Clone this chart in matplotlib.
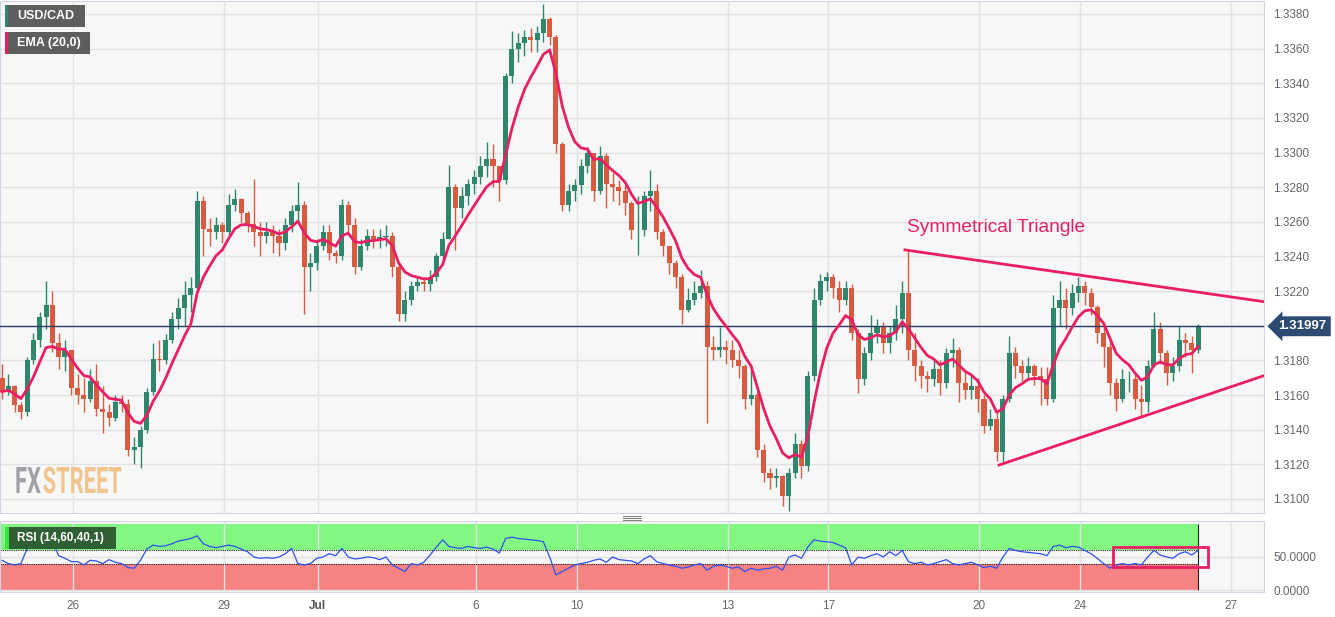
import numpy as np
import pandas as pd
import matplotlib.pyplot as plt
from matplotlib.patches import Rectangle, PathPatch
from matplotlib.lines import Line2D
from matplotlib.textpath import TextPath
from matplotlib.font_manager import FontProperties
from matplotlib.transforms import blended_transform_factory, Affine2D, IdentityTransform

# USD/CAD, 3-hour bars, last four digits (3162 -> 1.3162)
first_open = 3170
close_pips = [3162, 3165, 3154, 3150, 3180, 3192, 3205, 3212, 3190, 3182, 3186, 3164, 3160, 3158, 3168, 3152, 3150, 3147, 3156, 3155,
              3128, 3130, 3140, 3162, 3181, 3180, 3192, 3204, 3210, 3218, 3222, 3272, 3256, 3254, 3258,
              3254, 3270, 3273, 3265, 3259, 3254, 3252, 3254, 3252, 3248, 3258, 3266, 3270, 3234, 3236, 3246, 3254, 3242, 3240, 3270,
              3258, 3234, 3246, 3252, 3250, 3251, 3252, 3234, 3207, 3215, 3223, 3225, 3224,
              3228, 3240, 3250, 3280, 3268, 3275, 3282, 3286, 3292, 3296, 3292, 3284, 3344, 3360, 3363, 3367, 3365, 3369, 3377, 3367,
              3305, 3270, 3278, 3281, 3292, 3300, 3278, 3298, 3282, 3280, 3278, 3271, 3255,
              3255, 3275, 3278, 3254, 3246, 3236, 3228, 3209, 3215, 3219, 3223, 3188, 3186, 3188, 3186, 3180, 3177, 3158, 3160, 3128,
              3115, 3112, 3113, 3102, 3115, 3132, 3119, 3171, 3215, 3226, 3228, 3222, 3215, 3222,
              3196, 3169, 3184, 3196, 3200, 3190, 3196, 3204, 3219, 3186, 3177, 3171, 3169, 3175, 3167, 3184, 3186, 3167, 3163, 3165,
              3158, 3142, 3146, 3127, 3158, 3184, 3177, 3173, 3177, 3171, 3169, 3158, 3210,
              3215, 3210, 3219, 3223, 3219, 3211, 3196, 3188, 3167, 3158, 3169, 3169, 3158, 3156, 3177, 3198, 3184, 3173, 3177, 3192,
              3190, 3186, 3200]
high_pips = [3178, 3172, 3166, 3156, 3182, 3196, 3208, 3226, 3220, 3196, 3192, 3186, 3172, 3170, 3175, 3178, 3165, 3155, 3160, 3160,
             3158, 3136, 3142, 3164, 3190, 3192, 3195, 3208, 3216, 3226, 3228, 3278, 3275, 3262, 3263,
             3260, 3276, 3279, 3274, 3266, 3285, 3260, 3260, 3258, 3256, 3262, 3270, 3283, 3272, 3242, 3250, 3258, 3258, 3244, 3273,
             3272, 3262, 3250, 3256, 3256, 3256, 3258, 3254, 3236, 3220, 3226, 3228, 3228,
             3232, 3242, 3254, 3293, 3282, 3280, 3285, 3290, 3298, 3306, 3305, 3292, 3346, 3370, 3369, 3371, 3372, 3373, 3386, 3378,
             3368, 3306, 3282, 3285, 3296, 3303, 3300, 3304, 3300, 3288, 3284, 3281, 3272,
             3275, 3278, 3290, 3282, 3256, 3246, 3238, 3230, 3222, 3226, 3232, 3226, 3194, 3199, 3192, 3192, 3186, 3178, 3176, 3162,
             3132, 3118, 3118, 3114, 3118, 3138, 3134, 3174, 3222, 3230, 3231, 3230, 3226, 3226,
             3224, 3198, 3188, 3206, 3204, 3202, 3200, 3212, 3226, 3244, 3196, 3180, 3174, 3180, 3180, 3187, 3193, 3188, 3174, 3172,
             3170, 3160, 3152, 3150, 3160, 3194, 3188, 3180, 3182, 3178, 3176, 3176, 3218,
             3226, 3222, 3224, 3228, 3226, 3222, 3212, 3200, 3192, 3170, 3175, 3174, 3172, 3166, 3180, 3208, 3202, 3186, 3182, 3200,
             3196, 3194, 3201]
low_pips = [3158, 3160, 3150, 3146, 3148, 3178, 3188, 3198, 3185, 3175, 3174, 3160, 3155, 3150, 3156, 3148, 3138, 3142, 3145, 3150,
            3125, 3120, 3118, 3138, 3160, 3174, 3178, 3190, 3198, 3200, 3208, 3220, 3240, 3246, 3250,
            3248, 3252, 3266, 3260, 3254, 3246, 3240, 3248, 3242, 3240, 3244, 3254, 3260, 3207, 3220, 3232, 3244, 3238, 3236, 3238,
            3254, 3230, 3232, 3244, 3245, 3245, 3246, 3228, 3203, 3203, 3212, 3220, 3220,
            3220, 3226, 3238, 3250, 3244, 3262, 3270, 3276, 3282, 3286, 3280, 3272, 3282, 3340, 3352, 3356, 3358, 3358, 3364, 3362,
            3300, 3266, 3266, 3272, 3276, 3288, 3272, 3276, 3268, 3272, 3270, 3264, 3250,
            3241, 3252, 3266, 3250, 3240, 3230, 3222, 3201, 3208, 3212, 3216, 3144, 3180, 3182, 3178, 3176, 3170, 3152, 3154, 3124,
            3110, 3106, 3107, 3096, 3093, 3112, 3112, 3116, 3168, 3212, 3220, 3216, 3208, 3212,
            3192, 3161, 3166, 3180, 3190, 3184, 3184, 3192, 3196, 3180, 3168, 3164, 3162, 3165, 3160, 3164, 3176, 3156, 3158, 3158,
            3150, 3138, 3140, 3122, 3120, 3156, 3170, 3168, 3170, 3166, 3154, 3154, 3156,
            3200, 3198, 3206, 3214, 3212, 3206, 3190, 3176, 3160, 3151, 3156, 3162, 3152, 3148, 3150, 3176, 3178, 3166, 3168, 3174,
            3182, 3173, 3184]
# RSI(14,60,40,1), one value per bar
rsi_values = [45, 40, 38, 40, 63, 71, 75, 78, 74, 52, 48, 43, 43, 38, 45, 44, 40, 46, 42, 40,
              34, 33, 45, 62, 68, 66, 67, 70, 74, 76, 78, 82, 70, 66, 64, 66, 68, 66, 62, 58,
              50, 48, 49, 48, 50, 55, 63, 40, 38, 40, 48, 50, 55, 52, 63, 50, 47, 48, 50, 49,
              46, 50, 38, 33, 28, 40, 38, 42, 53, 65, 76, 66, 64, 63, 66, 64, 63, 65, 62, 56,
              78, 80, 78, 77, 76, 75, 73, 50, 23, 28, 33, 38, 40, 42, 45, 47, 42, 50, 46, 45,
              44, 40, 47, 52, 43, 40, 38, 36, 33, 35, 38, 40, 30, 36, 38, 36, 33, 35, 28, 33,
              30, 32, 33, 36, 30, 50, 53, 48, 65, 76, 74, 73, 72, 68, 64, 38, 50, 48, 52, 55,
              50, 58, 52, 60, 43, 40, 42, 38, 40, 43, 46, 40, 38, 40, 42, 38, 34, 36, 33, 50,
              63, 60, 58, 57, 56, 55, 52, 66, 68, 64, 66, 65, 60, 55, 48, 40, 33, 38, 40, 38,
              40, 38, 50, 60, 53, 50, 48, 55, 58, 53, 60]

# x axis in trading days counted from Mon 26 Jun
day_ticks = [0, 3, 4.86, 8, 10, 13, 15, 18, 20, 23]
day_labels = ['26', '29', 'Jul', '6', '10', '13', '17', '20', '24', '27']
first_bar_day = -1.41
bars_per_day = 8

last_price = 1.31997
tri_upper_x = [16.52, 23.65]
tri_upper_y = [1.32438, 1.32139]
tri_lower_x = [18.39, 23.65]
tri_lower_y = [1.31196, 1.31712]

plt.rcParams['font.family'] = ['Liberation Sans', 'DejaVu Sans']

GREEN = '#2e876c'
RED = '#d75a41'
PINK = '#e91e63'
W, H = 1335, 617

close = 1 + np.array(close_pips) / 1e4
opn = 1 + np.r_[first_open, close_pips[:-1]] / 1e4
high = np.maximum.reduce([1 + np.array(high_pips) / 1e4, opn, close])
low = np.minimum.reduce([1 + np.array(low_pips) / 1e4, opn, close])
x = first_bar_day + np.arange(len(close)) / bars_per_day

# EMA(20) on hourly ~ span 7 on 3h bars
ema = pd.Series(close).ewm(span=7, adjust=False).mean()

fig = plt.figure(figsize=(W / 100, H / 100), dpi=100)
fig.patch.set_facecolor('white')
ax = fig.add_axes([0, 1 - 513 / H, 1264 / W, 512 / H])
rx = fig.add_axes([0, 1 - 592 / H, 1264 / W, 71 / H])

xmin, xmax = -1.45, 23.65
for a in (ax, rx):
    a.set_facecolor('#f7f7f7')
    a.set_xlim(xmin, xmax)
    a.set_xticks(day_ticks)
    a.yaxis.tick_right()
    a.tick_params(length=0, labelsize=8.5, labelcolor='#666666', pad=6.5)
    for s in a.spines.values():
        s.set_color('#cfd5e3')
    a.grid(True, color='#e2e2e2', lw=1, zorder=0)
    a.set_axisbelow(True)

# main price panel
yt = np.arange(1.3100, 1.33801, 0.002)
ax.set_ylim(1.30919, 1.33875)
ax.set_yticks(yt)
# the 1.3200 label sits under the last-price tag
ax.set_yticklabels(['' if abs(v - 1.32) < 1e-6 else f'{v:.4f}' for v in yt])
ax.set_xticklabels([])

colors = np.where(close >= opn, GREEN, RED)
ax.vlines(x, low, high, colors=colors, lw=1, zorder=2)
ax.bar(x, np.maximum(np.abs(close - opn), 0.00004), bottom=np.minimum(opn, close),
       width=0.1, color=colors, lw=0, zorder=3)
ax.plot(x, ema, color=PINK, lw=2, zorder=4)
ax.axhline(last_price, color='#253f6a', lw=1, zorder=3)

ax.plot(tri_upper_x, tri_upper_y, color=PINK, lw=2, zorder=5)
ax.plot(tri_lower_x, tri_lower_y, color=PINK, lw=2, zorder=5)
ax.text(16.56, 1.3257, 'Symmetrical Triangle', color=PINK, fontsize=13.8, va='center', ha='left')

tr = blended_transform_factory(ax.transAxes, ax.transData)
ax.text(1.0115, last_price, '1.31997', transform=tr, ha='left', va='center', color='white',
        fontweight='bold', fontsize=9.5, clip_on=False,
        bbox=dict(boxstyle='larrow,pad=0.3', fc='#2c4a72', ec='none'))

# condensed FXSTREET watermark, drawn in pixel space
wm_font = FontProperties(family='Roboto', weight='bold')
xpos = 15
for word, col in (('FX', '#a0a0a6'), ('STREET', '#f2c48d')):
    tp = TextPath((0, 0), word, size=36.5, prop=wm_font)
    t = Affine2D().scale(0.6, 1).translate(xpos, H - 493) + IdentityTransform()
    fig.add_artist(PathPatch(tp, transform=t, fc=col, ec='none', zorder=1))
    xpos += tp.get_extents().x1 * 0.6 + 2

# RSI panel
rx.set_ylim(-3, 104.5)
rx.set_yticks([0, 50])
rx.set_yticklabels(['0.0000', '50.0000'])
rx.set_xticklabels(day_labels)
for lbl in rx.get_xticklabels():
    if lbl.get_text() == 'Jul':
        lbl.set_fontweight('bold')
        lbl.set_color('#555555')
rx.tick_params(axis='x', pad=6)
xend = x[-1]
rx.fill_between([xmin, xend], 60, 100, color='#7cf87c', lw=0, zorder=0.5, alpha=0.95)
rx.fill_between([xmin, xend], 0, 40, color='#f87c7c', lw=0, zorder=0.5, alpha=0.95)
rx.hlines([40, 60], xmin, xend, colors='#222222', linestyles=(0, (1, 1)), lw=0.8, zorder=2)
rx.vlines([xend], 0, 100, colors='#222222', lw=0.8, zorder=2)
rx.plot(x, rsi_values, color='#2f4ff0', lw=0.9, zorder=3)
rx.add_patch(Rectangle((20.655, 34.8), 1.885, 30.4, fill=False, ec=PINK, lw=2, zorder=4, clip_on=False))


def px_rect(x0, y0, x1, y1, color):
    fig.add_artist(Rectangle((x0 / W, 1 - y1 / H), (x1 - x0) / W, (y1 - y0) / H,
                             transform=fig.transFigure, fc=color, ec='none'))


# legend tags
px_rect(5, 5, 85, 27, '#5e5e5e')
px_rect(5, 5, 8, 27, GREEN)
fig.text(17 / W, 1 - 16 / H, 'USD/CAD', color='white', fontweight='bold', fontsize=9, va='center')
px_rect(5, 32, 90, 54, '#5e5e5e')
px_rect(5, 32, 8, 54, PINK)
fig.text(17 / W, 1 - 43 / H, 'EMA (20,0)', color='white', fontweight='bold', fontsize=9, va='center')
px_rect(5, 527, 116, 549, '#2f5f33')
px_rect(5, 527, 9, 549, '#3de33d')
fig.text(17 / W, 1 - 538 / H, 'RSI (14,60,40,1)', color='white', fontweight='bold', fontsize=8.5, va='center')

# panel resize handle
for yy in (516, 518, 520):
    fig.add_artist(Line2D([623 / W, 641 / W], [1 - yy / H] * 2, color='#888888', lw=0.8))

fig.savefig('out.png', dpi=100, facecolor='white')
